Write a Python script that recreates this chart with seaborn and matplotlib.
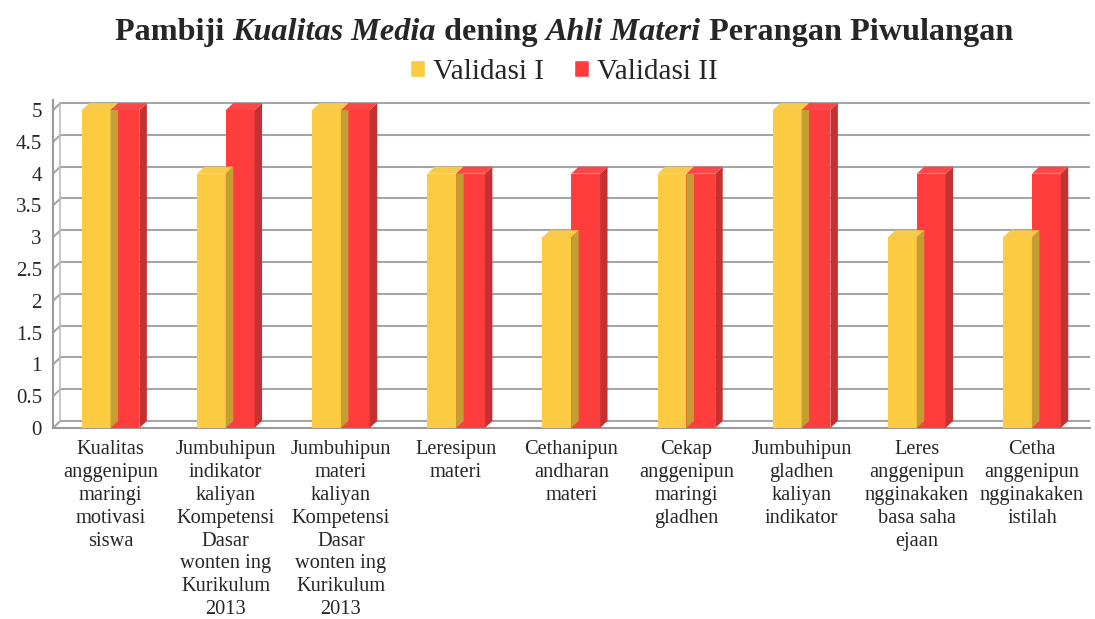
import numpy as np
import pandas as pd
import matplotlib.pyplot as plt
import matplotlib.colors as mcolors
from matplotlib.patches import Polygon
import seaborn as sns

categories = [
    "Kualitas\nanggenipun\nmaringi\nmotivasi\nsiswa",
    "Jumbuhipun\nindikator\nkaliyan\nKompetensi\nDasar\nwonten ing\nKurikulum\n2013",
    "Jumbuhipun\nmateri\nkaliyan\nKompetensi\nDasar\nwonten ing\nKurikulum\n2013",
    "Leresipun\nmateri",
    "Cethanipun\nandharan\nmateri",
    "Cekap\nanggenipun\nmaringi\ngladhen",
    "Jumbuhipun\ngladhen\nkaliyan\nindikator",
    "Leres\nanggenipun\nngginakaken\nbasa saha\nejaan",
    "Cetha\nanggenipun\nngginakaken\nistilah",
]
validasi_1 = [5, 4, 5, 4, 3, 4, 5, 3, 3]
validasi_2 = [5, 5, 5, 4, 4, 4, 5, 4, 4]
series = ["Validasi I", "Validasi II"]
yticks = [0, 0.5, 1, 1.5, 2, 2.5, 3, 3.5, 4, 4.5, 5]

colors = {"Validasi I": "#FCCB42", "Validasi II": "#FF3D3D"}

df = pd.DataFrame({
    "kategori": categories * 2,
    "nilai": validasi_1 + validasi_2,
    "seri": [series[0]] * len(categories) + [series[1]] * len(categories),
})

sns.set_style("white")
plt.rcParams["font.family"] = ["Liberation Serif", "DejaVu Serif"]

fig = plt.figure(figsize=(10.95, 6.19), dpi=100)
ax = fig.add_axes([0.0484, 0.3086, 0.9466, 0.53])

sns.barplot(data=df, x="kategori", y="nilai", hue="seri", palette=colors,
            width=0.5, ax=ax, saturation=1, legend=True, zorder=3)

# fake 3D side and top faces, derived from drawn bars
dx, dy = 0.065, 0.11
bars = [p for p in ax.patches if p.get_height() > 0]
for p in bars:
    x0 = p.get_x()
    x1 = x0 + p.get_width()
    h = p.get_height()
    rgb = np.array(mcolors.to_rgb(p.get_facecolor()))
    dark = tuple(rgb * 0.78)
    light = tuple(np.minimum(rgb * 0.92 + 0.06, 1))
    z = p.get_zorder()
    ax.add_patch(Polygon([(x1, 0), (x1 + dx, dy), (x1 + dx, h + dy), (x1, h)],
                         closed=True, facecolor=dark, edgecolor="none", zorder=z))
    ax.add_patch(Polygon([(x0, h), (x0 + dx, h + dy), (x1 + dx, h + dy), (x1, h)],
                         closed=True, facecolor=light, edgecolor="none", zorder=z))
    p.set_edgecolor("none")

n = len(categories)
ax.set_ylim(0, 5.16)
ax.set_xlim(-0.5, n - 0.5)
ax.set_yticks(yticks)
ax.set_yticklabels([f"{t:g}" for t in yticks], fontsize=15)

# back-wall gridlines with a short slant at the left wall
for t in yticks:
    ax.plot([-0.5 + dx, n - 0.5], [t + dy, t + dy], color="#A6A6A6", lw=1.5, zorder=1)
    ax.plot([-0.5, -0.5 + dx], [t, t + dy], color="#A6A6A6", lw=1.5, zorder=1)
ax.plot([-0.5 + dx, -0.5 + dx], [dy, 5 + dy], color="#BDBDBD", lw=1.2, zorder=1)

ax.set_xticks(range(n))
ax.set_xticklabels(categories, fontsize=14.7, linespacing=1.27)
ax.set_xticks(np.arange(-0.5, n), minor=True)
ax.tick_params(axis="x", which="major", length=0, pad=9)
ax.tick_params(axis="x", which="minor", length=5, color="#888888", width=1.2)
ax.tick_params(axis="y", length=5, color="#888888", width=1.2, pad=3)
ax.set_xlabel("")
ax.set_ylabel("")
for s in ["top", "right"]:
    ax.spines[s].set_visible(False)
for s in ["left", "bottom"]:
    ax.spines[s].set_color("#9A9A9A")
    ax.spines[s].set_linewidth(1.5)

handles, labels = ax.get_legend_handles_labels()
ax.legend(handles, labels, loc="center", bbox_to_anchor=(0.515, 0.884),
          bbox_transform=fig.transFigure, ncol=2, frameon=False, fontsize=21,
          handlelength=0.52, handleheight=0.55, handletextpad=0.28, columnspacing=1.0)

# title with bold and bold-italic parts
parts = [("Pambiji ", "normal"), ("Kualitas Media", "italic"), (" dening ", "normal"),
         ("Ahli Materi", "italic"), (" Perangan Piwulangan", "normal")]
texts = [fig.text(0, 0.948, s, fontsize=23.2, fontweight="bold", fontstyle=st,
                  va="center", ha="left") for s, st in parts]
fig.canvas.draw()
r = fig.canvas.get_renderer()
widths = [t.get_window_extent(r).width / fig.bbox.width for t in texts]
x = 0.515 - sum(widths) / 2
for t, w in zip(texts, widths):
    t.set_x(x)
    x += w

fig.savefig("out.png", dpi=100)
